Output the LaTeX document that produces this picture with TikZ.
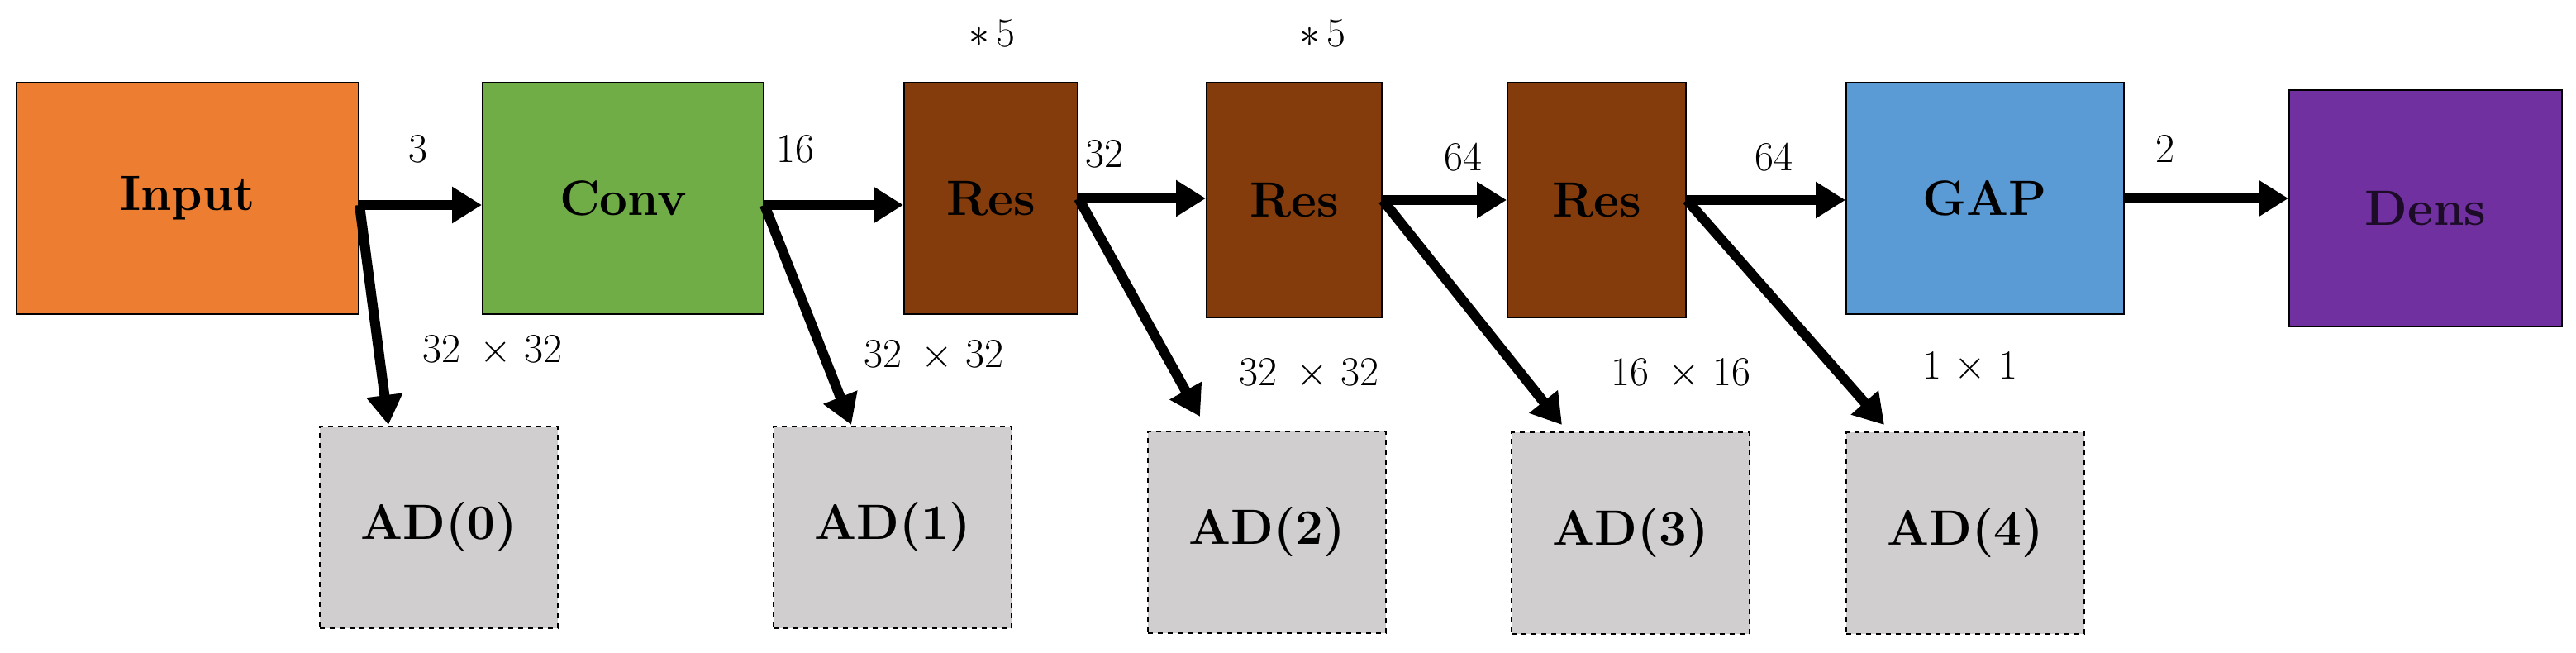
\documentclass[tikz,border=0pt]{standalone}
\usetikzlibrary{arrows.meta}
\definecolor{inorange}{HTML}{ED7D31}
\definecolor{convgreen}{HTML}{70AD47}
\definecolor{resbrown}{HTML}{843C0C}
\definecolor{gapblue}{HTML}{5B9BD5}
\definecolor{denspurple}{HTML}{7030A0}
\definecolor{adgray}{HTML}{D0CECE}
\tikzset{
  blk/.style={draw=black, line width=1pt, inner sep=0pt, font=\fontsize{30}{32}\selectfont\bfseries},
  adblk/.style={blk, fill=adgray, dashed, minimum width=144pt, minimum height=122pt},
  arr/.style={line width=6pt, -{Triangle[length=18pt, width=21pt]}},
  lbl/.style={font=\fontsize{25}{27}\selectfont}
}
\begin{document}
\begin{tikzpicture}[x=1pt, y=-1pt]
	\useasboundingbox (0,0) rectangle (1558.5,395);

		% main chain
		\node[blk, fill=inorange, minimum width=207pt, minimum height=140pt] (in) at (113.5,120) {Input};
		\node[blk, fill=convgreen, minimum width=170pt, minimum height=140pt] (conv) at (377,120) {Conv};
		\node[blk, fill=resbrown, minimum width=105pt, minimum height=140pt] (res1) at (599.5,120) {Res};
		\node[blk, fill=resbrown, minimum width=106pt, minimum height=142pt] (res2) at (783,121) {Res};
		\node[blk, fill=resbrown, minimum width=108pt, minimum height=142pt] (res3) at (966,121) {Res};
		\node[blk, fill=gapblue, minimum width=168pt, minimum height=140pt] (gap) at (1201,120) {GAP};
		\node[blk, fill=denspurple, text=black!75!denspurple, minimum width=165pt, minimum height=143pt] (dens) at (1467.5,126) {Dens};

		% auxiliary blocks
		\node[adblk] (ad0) at (265.5,319) {AD(0)};
		\node[adblk] (ad1) at (540,319) {AD(1)};
		\node[adblk] (ad2) at (766.5,322) {AD(2)};
		\node[adblk] (ad3) at (986.5,322.5) {AD(3)};
		\node[adblk] (ad4) at (1189,322.5) {AD(4)};

		% horizontal arrows
		\draw[arr] (in.east) ++(0,4) coordinate (b0) -- (b0 -| conv.west);
		\draw[arr] (conv.east) ++(0,4) coordinate (b1) -- (b1 -| res1.west);
		\draw[arr] (res1.east) coordinate (b2) -- (b2 -| res2.west);
		\draw[arr] (res2.east) coordinate (b3) -- (b3 -| res3.west);
		\draw[arr] (res3.east) coordinate (b4) -- (b4 -| gap.west);
		\draw[arr] (gap.east) coordinate (b5) -- (b5 -| dens.west);

		% branch arrows
		\coordinate (t0) at (235,257);
		\coordinate (t1) at (515,257);
		\coordinate (t2) at (726,252);
		\coordinate (t3) at (945,257);
		\coordinate (t4) at (1140,257);
		\draw[arr] (b0) -- (t0);
		\draw[arr] (b1) -- (t1);
		\draw[arr] (b2) -- (t2);
		\draw[arr] (b3) -- (t3);
		\draw[arr] (b4) -- (t4);

		% labels
		\node[lbl] (l3) at (253,90) {3};
		\node[lbl] (l16) at (481,90) {16};
		\node[lbl] (l32) at (668,93) {32};
		\node[lbl] (l64a) at (885,95) {64};
		\node[lbl] (l64b) at (1073,95) {64};
		\node[lbl] (l2) at (1310,90) {2};
		\node[lbl] (m1) at (600,20) {$*\,5$};
		\node[lbl] (m2) at (800,20) {$*\,5$};
		\node[lbl] (s0) at (298,212) {32 \,$\times$ 32};
		\node[lbl] (s1) at (565,215) {32 \,$\times$ 32};
		\node[lbl] (s2) at (792,226) {32 \,$\times$ 32};
		\node[lbl] (s3) at (1017,226) {16 \,$\times$ 16};
		\node[lbl] (s4) at (1192,222) {1 $\times$ 1};

\end{tikzpicture}
\end{document}
